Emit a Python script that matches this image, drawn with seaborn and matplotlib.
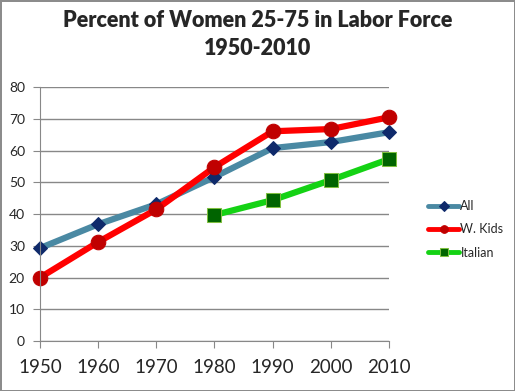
import numpy as np
import pandas as pd
import seaborn as sns
from matplotlib import pyplot as plt

years = [1950, 1960, 1970, 1980, 1990, 2000, 2010]
all_women = [29.3, 36.8, 43.1, 51.7, 60.8, 62.7, 65.8]
w_kids = [20.0, 31.2, 41.5, 54.8, 66.1, 66.8, 70.5]
italian_years = [1980, 1990, 2000, 2010]
italian = [39.7, 44.4, 50.7, 57.3]

sns.set_style("white")
plt.rcParams['font.family'] = ['Lato', 'DejaVu Sans']

fig = plt.figure(figsize=(5.15, 3.91), dpi=100)
fig.patch.set_edgecolor('#8c8c8c')
fig.patch.set_linewidth(2)
ax = fig.add_axes([0.078, 0.128, 0.677, 0.649])

# 三条线：颜色、标记照原图
sns.lineplot(x=years, y=all_women, ax=ax, color='#4a89a3', linewidth=4.5,
             marker='D', markersize=7.5, markerfacecolor='#0f2a6b',
             markeredgecolor='#0f2a6b', label='All')
sns.lineplot(x=years, y=w_kids, ax=ax, color='#ff0000', linewidth=4.5,
             marker='o', markersize=10.5, markerfacecolor='#c00000',
             markeredgecolor='#c00000', label='W. Kids')
sns.lineplot(x=italian_years, y=italian, ax=ax, color='#14d214', linewidth=4.5,
             marker='s', markersize=9.5, markerfacecolor='#006400',
             markeredgecolor='#7fbf3f', label='Italian')

ax.set_xlim(1950, 2010)
ax.set_ylim(0, 80)
ax.set_xticks(years)
ax.set_yticks(range(0, 81, 10))
ax.yaxis.grid(True, color='#888888', linewidth=1)
ax.set_axisbelow(True)
ax.margins(0)
for s in ['top', 'right']:
    ax.spines[s].set_visible(False)
for s in ['left', 'bottom']:
    ax.spines[s].set_color('#888888')
ax.tick_params(axis='y', length=5, color='#888888', labelsize=10, pad=6, left=True)
ax.tick_params(axis='x', length=5, color='#888888', labelsize=13.5, pad=8, bottom=True)
for lab in ax.get_xticklabels() + ax.get_yticklabels():
    lab.set_clip_on(False)
for ln in ax.lines:
    ln.set_clip_on(False)

fig.suptitle('Percent of Women 25-75 in Labor Force\n1950-2010', fontsize=15.5,
             fontweight='heavy', y=0.975, linespacing=1.45)

leg = ax.legend(loc='center left', bbox_to_anchor=(1.08, 0.44), frameon=False,
                fontsize=9, handlelength=2.5, handletextpad=0.1, labelspacing=0.9)
for h in leg.legend_handles:
    h.set_markersize(5.5)
    h.set_linewidth(3.5)

fig.savefig('out.png', dpi=100, edgecolor=fig.get_edgecolor())
